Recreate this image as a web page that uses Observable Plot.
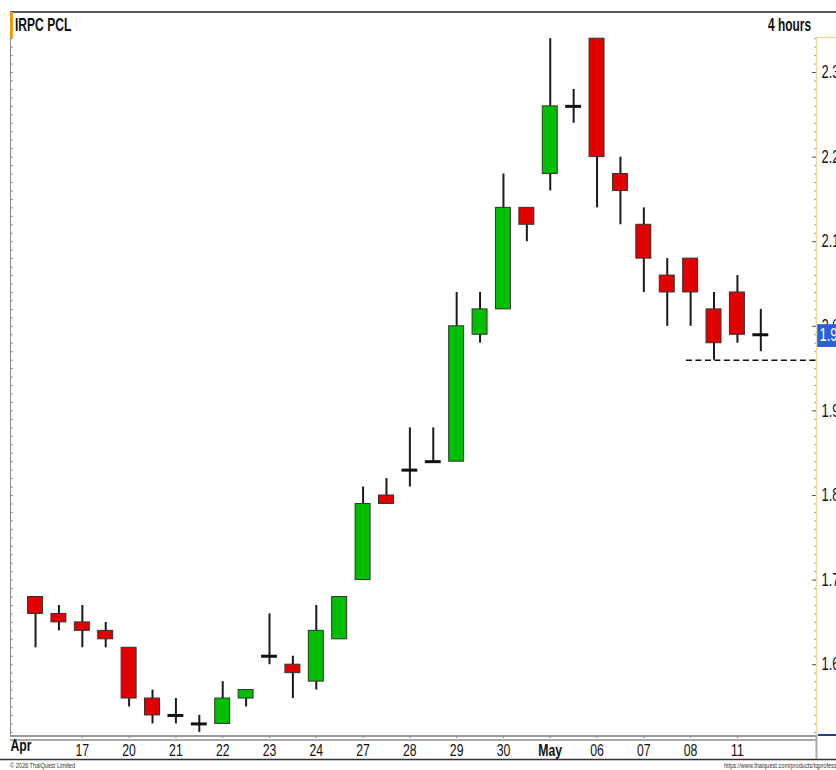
<!DOCTYPE html>
<html><head><meta charset="utf-8">
<script src="https://cdn.jsdelivr.net/npm/d3@7"></script>
<script src="https://cdn.jsdelivr.net/npm/@observablehq/plot@0.6"></script>
<style>
html,body{margin:0;padding:0;background:#fff;overflow:hidden}
#wrap{position:relative;width:836px;height:770px;overflow:hidden;font-family:"Liberation Sans",Arial,sans-serif;}
#wrap svg{position:absolute;left:0;top:0;}
.t{position:absolute;font-weight:bold;font-size:18px;line-height:18px;color:#111;white-space:nowrap;}
.cap{position:absolute;font-size:7px;line-height:8px;color:#333;white-space:nowrap;font-family:"Liberation Sans",sans-serif;}
</style></head><body><div id="wrap">
<div class="t" style="left:15px;top:16px;transform:scaleX(0.67);transform-origin:left center;">IRPC PCL</div>
<div class="t" style="right:25px;top:16px;transform:scaleX(0.66);transform-origin:right center;">4 hours</div>
<div class="cap" style="left:10px;top:762px;transform:scaleX(0.8);transform-origin:left center;">© 2026 ThaiQuest Limited</div>
<div class="cap" style="left:724px;top:762px;transform:scaleX(0.8);transform-origin:left center;">https://www.thaiquest.com/products/tqprofessional</div>
</div>
<script>
// ---- data (4-hour candles, two per trading day) ----
const open  = [1.68,1.66,1.65,1.64,1.62,1.56,1.54,1.53,1.53,1.56,1.61,1.60,1.58,1.63,1.70,1.80,1.83,1.84,1.84,1.99,2.02,2.14,2.18,2.26,2.34,2.18,2.12,2.06,2.08,2.02,2.04,1.99];
const high  = [1.68,1.67,1.67,1.65,1.62,1.57,1.56,1.54,1.58,1.57,1.66,1.61,1.67,1.68,1.81,1.82,1.88,1.88,2.04,2.04,2.18,2.14,2.34,2.28,2.34,2.20,2.14,2.08,2.08,2.04,2.06,2.02];
const low   = [1.62,1.64,1.62,1.62,1.55,1.53,1.53,1.52,1.53,1.55,1.60,1.56,1.57,1.63,1.70,1.79,1.81,1.84,1.84,1.98,2.02,2.10,2.16,2.24,2.14,2.12,2.04,2.00,2.00,1.96,1.98,1.97];
const close = [1.66,1.65,1.64,1.63,1.56,1.54,1.54,1.53,1.56,1.57,1.61,1.59,1.64,1.68,1.79,1.79,1.83,1.84,2.00,2.02,2.14,2.12,2.26,2.26,2.20,2.16,2.08,2.04,2.04,1.98,1.99,1.99];
const dayStart  = [2,4,6,8,10,12,14,16,18,20,22,24,26,28,30];
const dayLabels = ["17","20","21","22","23","24","27","28","29","30","May","06","07","08","11"];
const firstMonth = "Apr";
const yMajor = [1.6,1.7,1.8,1.9,2.0,2.1,2.2,2.3];
const lastPrice = 1.99;
const support = [{level:1.96, from:28}];

// ---- build ----
const candles = open.map((o,i)=>({i, open:o, high:high[i], low:low[i], close:close[i]}));
const labelMap = new Map(dayStart.map((d,k)=>[d,dayLabels[k]]));
const xDom = [-1.07, 33.38];
const yDom = [1.5163, 2.3414];
const yMinor = d3.range(152, 235).map(d=>d/100);
const FONT = '"Liberation Sans",Arial,sans-serif';
const hw = 0.32;

const chart = Plot.plot({
  width:836, height:770,
  marginTop:37, marginBottom:35, marginLeft:10, marginRight:20,
  x:{domain:xDom},
  y:{domain:yDom},
  style:{fontFamily:FONT, background:"transparent", overflow:"visible", color:"#111"},
  marks:[
    Plot.axisX(dayStart, {tickFormat:d=>labelMap.get(d), tickSize:3, tickPadding:5, fontSize:17, stroke:"#666", label:null}),
    Plot.text([firstMonth], {frameAnchor:"bottom-left", text:d=>d, dx:0, dy:15, fontSize:17, fontWeight:"bold", textAnchor:"start"}),
    Plot.axisY(yMinor, {anchor:"right", tickSize:-2.5, tickFormat:()=>"", stroke:"#777", label:null}),
    Plot.axisY(yMajor, {anchor:"right", tickSize:-5, tickFormat:()=>"", stroke:"#555", label:null}),
    Plot.axisY(yMajor, {anchor:"right", tickSize:0, tickPadding:5, tickFormat:d=>d.toFixed(1), fontSize:18, label:null}),
    Plot.axisY(yMinor, {anchor:"left", tickSize:-2.5, tickFormat:()=>"", stroke:"#777", label:null}),
    Plot.ruleX(candles, {x:"i", y1:"low", y2:"high", stroke:"#1a1a1a", strokeWidth:2}),
    Plot.rect(candles.filter(d=>d.open!==d.close), {x1:d=>d.i-hw, x2:d=>d.i+hw, y1:"open", y2:"close",
      fill:d=>d.close>d.open?"#00be00":"#e00000", stroke:"#333", strokeWidth:1}),
    Plot.ruleY(candles.filter(d=>d.open===d.close), {x1:d=>d.i-hw-0.02, x2:d=>d.i+hw+0.02, y:"close", stroke:"#111", strokeWidth:3}),
    Plot.ruleY(support, {y:"level", x1:d=>d.from-0.18, x2:xDom[1], stroke:"#111", strokeWidth:1.5, strokeDasharray:"6,3.5"}),
    Plot.rect([lastPrice], {x1:xDom[1]+0.02, x2:xDom[1]+1, y1:d=>d-0.015, y2:d=>d+0.012, fill:"#2b5fd9"}),
    Plot.text([lastPrice], {x:xDom[1], y:d=>d, text:d=>d.toFixed(2), textAnchor:"start", dx:3, fill:"#fff", fontSize:18})
  ]
});
document.getElementById("wrap").prepend(chart);

// condensed look of the original terminal font
d3.select(chart).selectAll("text").each(function(){
  const t = this.getAttribute("transform") || "";
  this.setAttribute("transform", t + " scale(0.72,1)");
  if (this.textContent === "May") this.setAttribute("font-weight", "bold");
});

// ---- frame chrome ----
const s = d3.select(chart);
const xs = chart.scale("x"), ys = chart.scale("y");
const L = xs.apply(xDom[0]), R = xs.apply(xDom[1]), T = ys.apply(yDom[1]), B = ys.apply(yDom[0]);
function line(x1,y1,x2,y2,stroke,w){ s.append("line").attr("x1",x1).attr("y1",y1).attr("x2",x2).attr("y2",y2).attr("stroke",stroke).attr("stroke-width",w); }
line(L,12,836,12,"#222",1.5);
line(L+0.5,12,L+0.5,B+1,"#888",1);
s.append("rect").attr("x",L).attr("y",12).attr("width",3).attr("height",26).attr("fill","#f39c12");
line(R+0.5,T,R+0.5,B,"#efd9a0",1.5);
line(R,T+0.5,836,T+0.5,"#efd9a0",1.5);
line(L,B+1,R,B+1,"#9a9a9a",2);
line(L,B+5,R,B+5,"#555",1);
line(R+2,B,836,B,"#1f3f9f",2);
line(0,759.5,836,759.5,"#333",1.5);
line(R+0.5,B,R+0.5,759,"#aaa",2);
</script>
</body></html>
